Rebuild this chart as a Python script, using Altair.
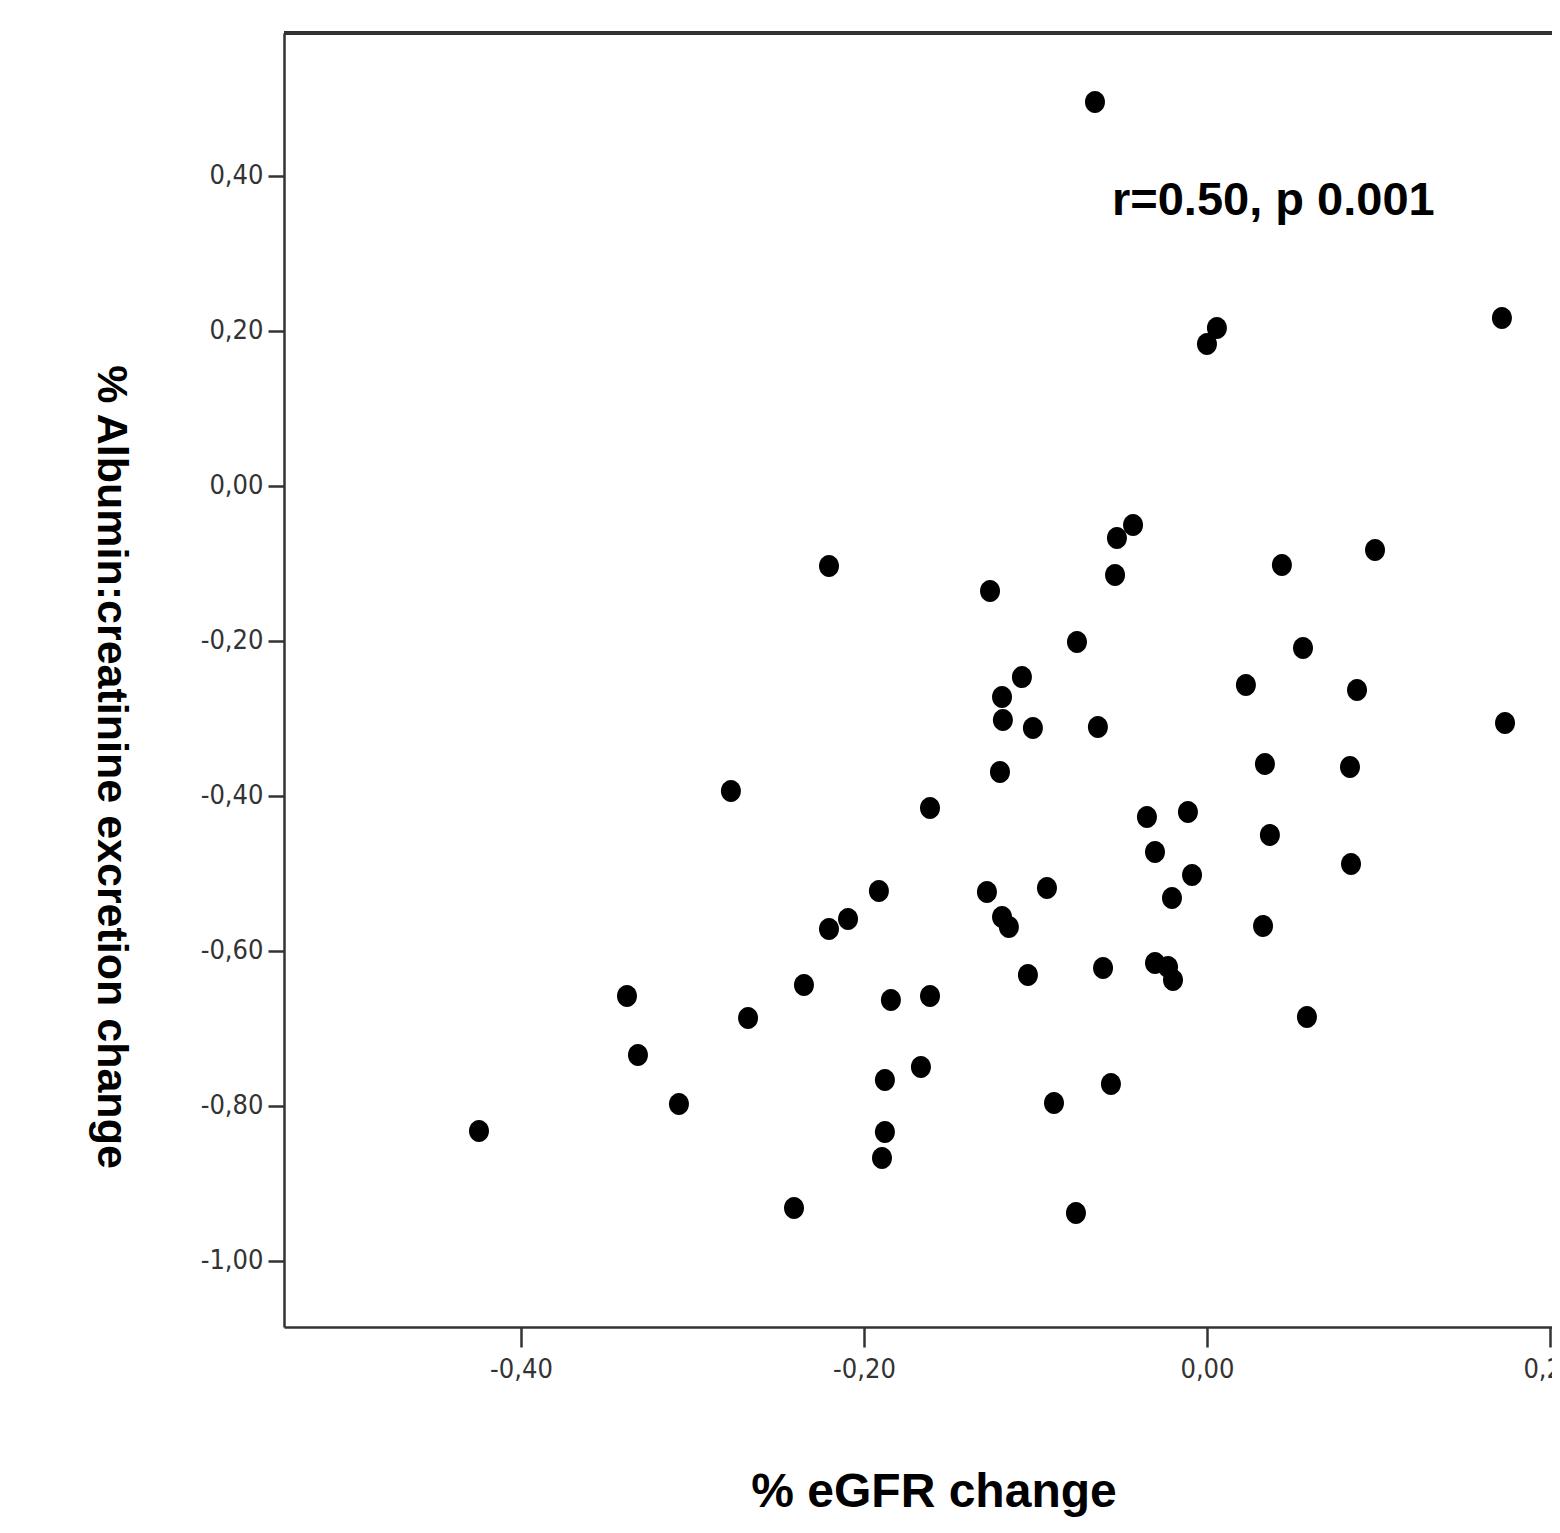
import altair as alt
import pandas as pd

# % eGFR change (x) and % albumin:creatinine excretion change (y)
egfr = [-0.0653, 0.0058, 0.0000, 0.1720, -0.0431, -0.0525, 0.0980, -0.2204, 0.0437, -0.0536,
        -0.1265, -0.0758, 0.0560, -0.1079, 0.0227, 0.0875, -0.1195, -0.1190, -0.1015, -0.0636,
        0.1738, 0.0338, 0.0834, -0.1207, -0.2776, -0.1615, -0.0111, -0.0350, 0.0367, -0.0303,
        -0.0087, 0.0840, -0.1913, -0.1283, -0.0933, -0.0204, -0.1195, -0.1155, -0.2093, -0.2204,
        0.0327, -0.0606, -0.0303, -0.0227, -0.0198, -0.1044, -0.3382, -0.2350, -0.1843, -0.1615,
        -0.2676, 0.0583, -0.3318, -0.1668, -0.1878, -0.0560, -0.3079, -0.0892, -0.4245, -0.1878,
        -0.1895, -0.2408, -0.0764]
acr = [0.4955, 0.2039, 0.1832, 0.2168, -0.0503, -0.0671, -0.0826, -0.1032, -0.1019, -0.1148,
       -0.1355, -0.2013, -0.2090, -0.2465, -0.2568, -0.2632, -0.2723, -0.3019, -0.3123, -0.3110,
       -0.3058, -0.3587, -0.3626, -0.3690, -0.3935, -0.4155, -0.4206, -0.4271, -0.4503, -0.4723,
       -0.5019, -0.4877, -0.5226, -0.5239, -0.5187, -0.5316, -0.5561, -0.5690, -0.5587, -0.5716,
       -0.5677, -0.6219, -0.6155, -0.6206, -0.6374, -0.6310, -0.6581, -0.6439, -0.6632, -0.6581,
       -0.6865, -0.6852, -0.7342, -0.7497, -0.7665, -0.7716, -0.7974, -0.7961, -0.8323, -0.8335,
       -0.8671, -0.9316, -0.9381]

x_ticks = [-0.4, -0.2, 0.0, 0.2]
y_ticks = [0.4, 0.2, 0.0, -0.2, -0.4, -0.6, -0.8, -1.0]

annot_text = ["r=0.50, p 0.001"]
annot_x = [-0.0554]
annot_y = [0.3497]

X_DOMAIN = [-0.5382, 0.2012]
Y_DOMAIN = [-1.0852, 0.5845]
W, H = 1268, 1294

df = pd.DataFrame({"egfr": egfr, "acr": acr})
ann = pd.DataFrame({"t": annot_text, "x": annot_x, "y": annot_y})

LABEL_EXPR = "(datum.value < -0.0001 ? '-' : '') + replace(format(abs(datum.value), '.2f'), '.', ',')"
NARROW = "Liberation Sans Narrow, Arial Narrow, DejaVu Sans Condensed, sans-serif"
BOLD = "Liberation Sans, Arial, sans-serif"
ellipse = "M -0.909,0 A 0.909,1 0 1,1 0.909,0 A 0.909,1 0 1,1 -0.909,0 Z"

xs = alt.Scale(domain=X_DOMAIN, nice=False, zero=False)
ys = alt.Scale(domain=Y_DOMAIN, nice=False, zero=False)

points = alt.Chart(df).mark_point(
    filled=True, shape=ellipse, size=484, color="black", opacity=1
).encode(
    x=alt.X("egfr:Q", scale=xs, axis=alt.Axis(
        values=x_ticks, labelExpr=LABEL_EXPR, grid=False,
        labelFont=NARROW, labelFontSize=27, labelColor="#333333", labelPadding=9,
        tickSize=20, tickWidth=2.5, tickColor="#333333",
        domainColor="#333333", domainWidth=2.5,
        title="% eGFR change", titleFont=BOLD, titleFontSize=48, titleFontWeight="bold",
        titleColor="black", titleX=649.5, titleY=179, titleAlign="center",
        titleBaseline="alphabetic", labelFlush=False, labelOverlap=False)),
    y=alt.Y("acr:Q", scale=ys, axis=alt.Axis(
        values=y_ticks, labelExpr=LABEL_EXPR, grid=False,
        labelFont=NARROW, labelFontSize=27, labelColor="#333333", labelPadding=5,
        tickSize=16, tickWidth=2.5, tickColor="#333333",
        domainColor="#333333", domainWidth=2.5,
        title="% Albumin:creatinine excretion change", titleFont=BOLD, titleFontSize=43,
        titleFontWeight="bold", titleColor="black", titleAngle=90,
        titleX=-187, titleY=733.5, titleAlign="center", titleBaseline="alphabetic",
        labelFlush=False, labelOverlap=False)),
)

top_line = alt.Chart(df).mark_rule(color="#333333", strokeWidth=2.5).encode(
    x=alt.value(0), x2=alt.value(W), y=alt.value(0)
)

annotation = alt.Chart(ann).mark_text(
    font=BOLD, fontSize=47, fontWeight="bold", color="black", align="left", baseline="alphabetic"
).encode(
    x=alt.X("x:Q", scale=xs),
    y=alt.Y("y:Q", scale=ys),
    text="t:N",
)

chart = alt.layer(top_line, points, annotation).properties(
    width=W, height=H,
    autosize=alt.AutoSizeParams(type="none"),
    padding={"left": 276, "top": 25, "right": 0, "bottom": 190},
).configure_view(stroke="transparent").configure(background="white")

chart.save("out.html", embed_options={"renderer": "svg", "actions": False})
